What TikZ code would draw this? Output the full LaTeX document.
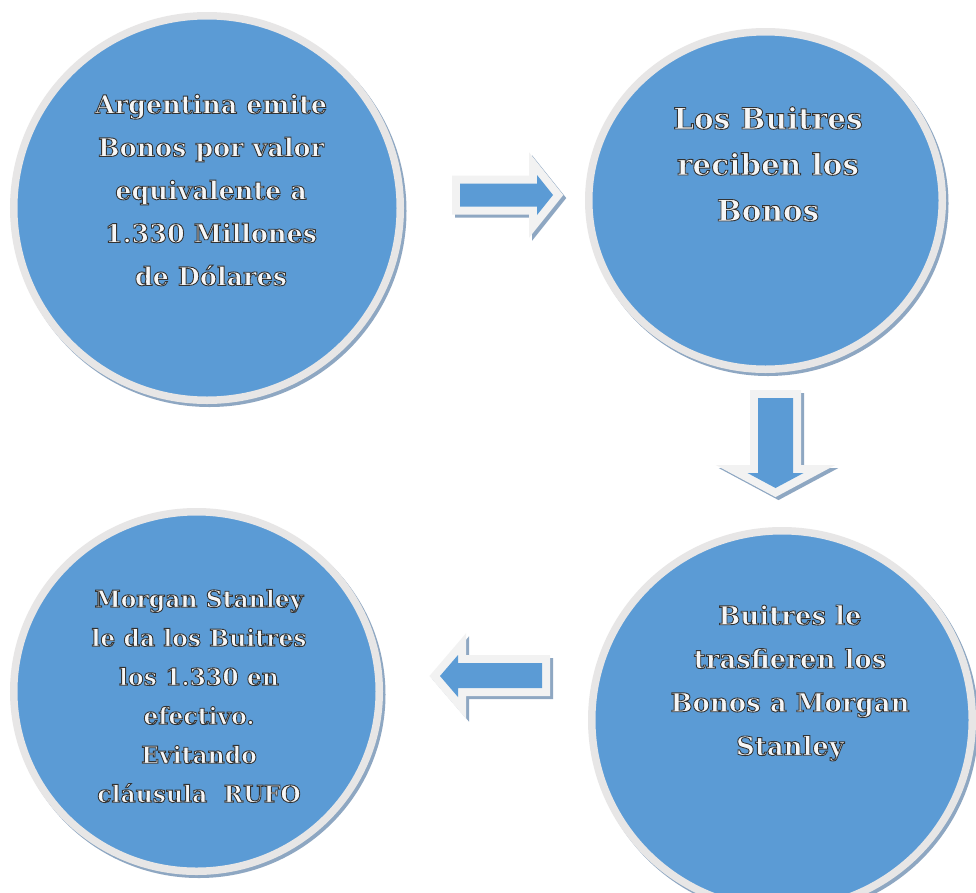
\documentclass[tikz,border=0pt]{standalone}
\usepackage{fontspec}
\setmainfont{DejaVu Serif}
\usetikzlibrary{shapes.geometric,calc}
\definecolor{cblue}{HTML}{5B9BD5}
\definecolor{cring}{HTML}{E7E6E6}
\definecolor{cedge}{HTML}{F2F2F2}
\definecolor{cshadow}{HTML}{8EA7C2}
\definecolor{ctext}{HTML}{F6F6F6}
\newcommand{\txtout}{\special{pdf:literal 2 Tr 0.9 w 0.2 0.2 0.2 RG}}
\newcommand{\txtend}{\special{pdf:literal 0 Tr}}
\tikzset{
  bubble/.style={ellipse, fill=cblue, draw=cring, line width=7.5pt, inner sep=0pt},
  bubshadow/.style={fill=cshadow},
  bubtext/.style={text=ctext, align=center, inner sep=0pt},
  arrowedge/.style={draw=cedge, fill=cedge, line width=16pt, line join=miter},
  arrowshadow/.style={draw=cshadow, fill=cshadow, line width=16pt, line join=miter},
  arrowfill/.style={fill=cblue},
}
\begin{document}
\begin{tikzpicture}[x=1pt,y=-1pt]
\useasboundingbox (0,0) rectangle (976,892);
\fill[white] (0,0) rectangle (976,892);
% centres
\coordinate (p1) at (207,208);
\coordinate (p2) at (765.5,200.5);
\coordinate (p3) at (782,720);
\coordinate (p4) at (196.5,691.5);
% shadows of the circles
\fill[bubshadow] ($(p1)+(2.5,3)$) ellipse [x radius=197pt, y radius=196pt];
\fill[bubshadow] ($(p2)+(2.5,3)$) ellipse [x radius=180.5pt, y radius=172.5pt];
\fill[bubshadow] ($(p3)+(2.5,3)$) ellipse [x radius=194pt, y radius=193pt];
\fill[bubshadow] ($(p4)+(2.5,3)$) ellipse [x radius=186.5pt, y radius=183.5pt];
% circles
\node[bubble, minimum width=386.5pt, minimum height=384.5pt] (c1) at (p1) {};
\node[bubble, minimum width=353.5pt, minimum height=337.5pt] (c2) at (p2) {};
\node[bubble, minimum width=380.5pt, minimum height=378.5pt] (c3) at (p3) {};
\node[bubble, minimum width=365.5pt, minimum height=359.5pt] (c4) at (p4) {};
% texts
\node[bubtext, font=\fontsize{25.5}{43}\selectfont\bfseries] (t1) at (211,190)
  {\txtout Argentina emite\\Bonos por valor\\equivalente a\\1.330 Millones\\de Dólares\txtend};
\node[bubtext, font=\fontsize{29.5}{46}\selectfont\bfseries] (t2) at (768,164)
  {\txtout Los Buitres\\reciben los\\Bonos\txtend};
\node[bubtext, font=\fontsize{26}{43.5}\selectfont\bfseries] (t3) at (790,683)
  {\txtout Buitres le\\trasfieren los\\Bonos a Morgan\\Stanley\txtend};
\node[bubtext, font=\fontsize{23.5}{39}\selectfont\bfseries] (t4) at (199,696)
  {\txtout Morgan Stanley\\le da los Buitres\\los 1.330 en\\efectivo.\\Evitando\\cláusula~~RUFO\txtend};
% arrow right (c1 -> c2)
\draw[arrowshadow, shift={(3,3)}] (460,183.5) -- (537,183.5) -- (537,175) -- (553,195) -- (537,215) -- (537,206.5) -- (460,206.5) -- cycle;
\draw[arrowedge] (460,183.5) -- (537,183.5) -- (537,175) -- (553,195) -- (537,215) -- (537,206.5) -- (460,206.5) -- cycle;
\fill[arrowfill] (460,183.5) -- (537,183.5) -- (537,175) -- (553,195) -- (537,215) -- (537,206.5) -- (460,206.5) -- cycle;
% arrow down (c2 -> c3)
\draw[arrowshadow, shift={(3,3)}] (758,398) -- (793,398) -- (793,473) -- (803.5,473) -- (775.5,488) -- (747.5,473) -- (758,473) -- cycle;
\draw[arrowedge] (758,398) -- (793,398) -- (793,473) -- (803.5,473) -- (775.5,488) -- (747.5,473) -- (758,473) -- cycle;
\fill[arrowfill] (758,398) -- (793,398) -- (793,473) -- (803.5,473) -- (775.5,488) -- (747.5,473) -- (758,473) -- cycle;
% arrow left (c3 -> c4)
\draw[arrowshadow, shift={(3,3)}] (542,663) -- (542,688) -- (458,688) -- (458,697) -- (440,676) -- (458,655) -- (458,663) -- cycle;
\draw[arrowedge] (542,663) -- (542,688) -- (458,688) -- (458,697) -- (440,676) -- (458,655) -- (458,663) -- cycle;
\fill[arrowfill] (542,663) -- (542,688) -- (458,688) -- (458,697) -- (440,676) -- (458,655) -- (458,663) -- cycle;
\end{tikzpicture}
\end{document}
